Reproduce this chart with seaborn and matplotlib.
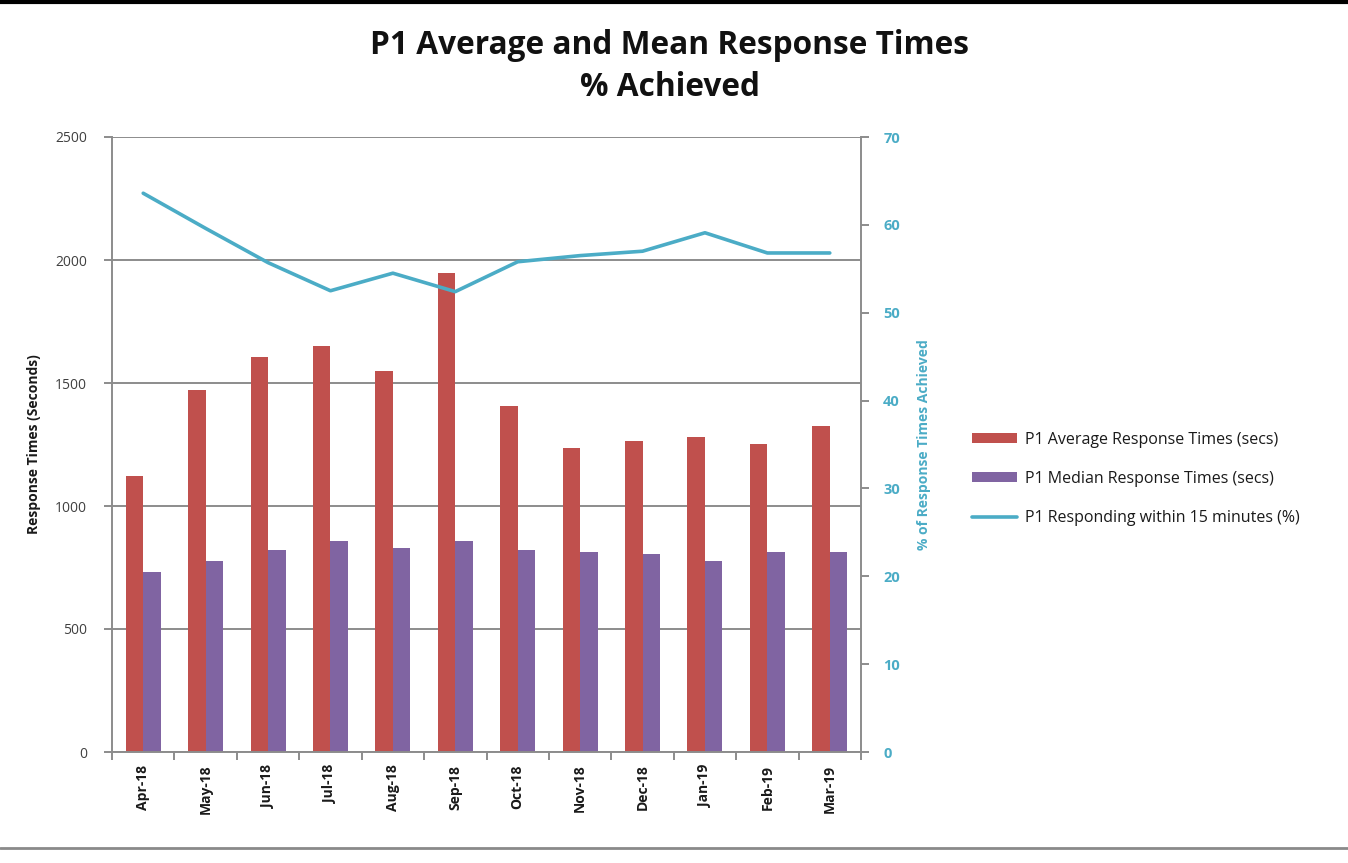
import numpy as np
import pandas as pd
import matplotlib
matplotlib.use("Agg")
import matplotlib.pyplot as plt
from matplotlib.patches import Patch
from matplotlib.lines import Line2D
import seaborn as sns

months = ["Apr-18", "May-18", "Jun-18", "Jul-18", "Aug-18", "Sep-18",
          "Oct-18", "Nov-18", "Dec-18", "Jan-19", "Feb-19", "Mar-19"]
avg_secs = [1120, 1470, 1605, 1650, 1550, 1947, 1408, 1236, 1263, 1280, 1254, 1325]
median_secs = [732, 777, 821, 856, 831, 856, 821, 813, 804, 777, 813, 813]
pct_15min = [63.6, 59.6, 55.7, 52.5, 54.5, 52.4, 55.8, 56.5, 57.0, 59.1, 56.8, 56.8]

series_avg = "P1 Average Response Times (secs)"
series_med = "P1 Median Response Times (secs)"
series_pct = "P1 Responding within 15 minutes (%)"

RED = "#C0504D"
PURPLE = "#8064A2"
BLUE = "#4BACC6"
GRID = "#8C8C8C"

sns.set_theme(style="white")
plt.rcParams["font.family"] = ["Open Sans", "DejaVu Sans"]

df = pd.DataFrame({
    "month": months * 2,
    "value": avg_secs + median_secs,
    "series": [series_avg] * len(months) + [series_med] * len(months),
})

fig = plt.figure(figsize=(13.48, 8.63), dpi=100)
ax = fig.add_axes([112 / 1348, 1 - 752 / 863, (861 - 112) / 1348, (752 - 137) / 863])

sns.barplot(data=df, x="month", y="value", hue="series", order=months,
            palette=[RED, PURPLE], width=0.56, ax=ax, legend=False,
            linewidth=0, saturation=1)

ax.set_xlim(-0.5, len(months) - 0.5)
ax.set_ylim(0, 2500)
ax.set_yticks(np.arange(0, 2501, 500))
ax.yaxis.grid(True, color=GRID, linewidth=1.4)
ax.set_axisbelow(True)
for s in ["top", "right"]:
    ax.spines[s].set_visible(False)
for s in ["left", "bottom"]:
    ax.spines[s].set_color(GRID)
    ax.spines[s].set_linewidth(1.4)

ax.tick_params(axis="y", left=True, length=6, width=1.4, color=GRID,
               labelsize=10, labelcolor="#404040", pad=12)
ax.set_xticks(np.arange(len(months)))
ax.set_xticklabels(months, rotation=90, fontweight="bold", fontsize=10)
ax.tick_params(axis="x", which="major", length=0, pad=9, labelcolor="#1a1a1a")
ax.set_xticks(np.arange(-0.5, len(months)), minor=True)
ax.tick_params(axis="x", which="minor", bottom=True, length=6, width=1.4, color=GRID)
ax.set_xlabel("")
ax.set_ylabel("Response Times (Seconds)", fontsize=10, fontweight="bold",
              color="#1a1a1a", labelpad=10)

ax2 = ax.twinx()
sns.lineplot(x=np.arange(len(months)), y=pct_15min, ax=ax2, color=BLUE,
             linewidth=2.6, legend=False)
ax2.set_ylim(0, 70)
ax2.set_yticks(np.arange(0, 71, 10))
ax2.set_xlim(-0.5, len(months) - 0.5)
for s in ["top", "left", "bottom"]:
    ax2.spines[s].set_visible(False)
ax2.spines["right"].set_color(GRID)
ax2.spines["right"].set_linewidth(1.4)
ax2.tick_params(axis="y", right=True, length=6, width=1.4, color=GRID,
                labelsize=10.5, labelcolor=BLUE, pad=10)
for lab in ax2.get_yticklabels():
    lab.set_fontweight("bold")
ax2.set_ylabel("% of Response Times Achieved", fontsize=10, fontweight="bold",
               color=BLUE, labelpad=12)
ax2.grid(False)

# two-line chart title
fig.text(670 / 1348, 1 - 45 / 863, "P1 Average and Mean Response Times",
         ha="center", va="center", fontsize=22.8, fontweight="bold", color="#111111")
fig.text(670 / 1348, 1 - 88 / 863, "% Achieved",
         ha="center", va="center", fontsize=22.8, fontweight="bold", color="#111111")

handles = [Patch(facecolor=RED, edgecolor="none"),
           Patch(facecolor=PURPLE, edgecolor="none"),
           Line2D([0], [0], color=BLUE, linewidth=2.6)]
fig.legend(handles, [series_avg, series_med, series_pct], loc="center left",
           bbox_to_anchor=(958 / 1348, 1 - 479 / 863), frameon=False,
           fontsize=11.5, handlelength=2.8, handleheight=0.6,
           labelspacing=1.45, handletextpad=0.5, labelcolor="#1a1a1a")

# frame rules above and below the chart
fig.add_artist(Line2D([0, 1], [1 - 2 / 863, 1 - 2 / 863], color="black",
                      linewidth=3, transform=fig.transFigure))
fig.add_artist(Line2D([0, 1], [1 - 848 / 863, 1 - 848 / 863], color="#8a8a8a",
                      linewidth=2, transform=fig.transFigure))

fig.savefig("out.png", dpi=100)
